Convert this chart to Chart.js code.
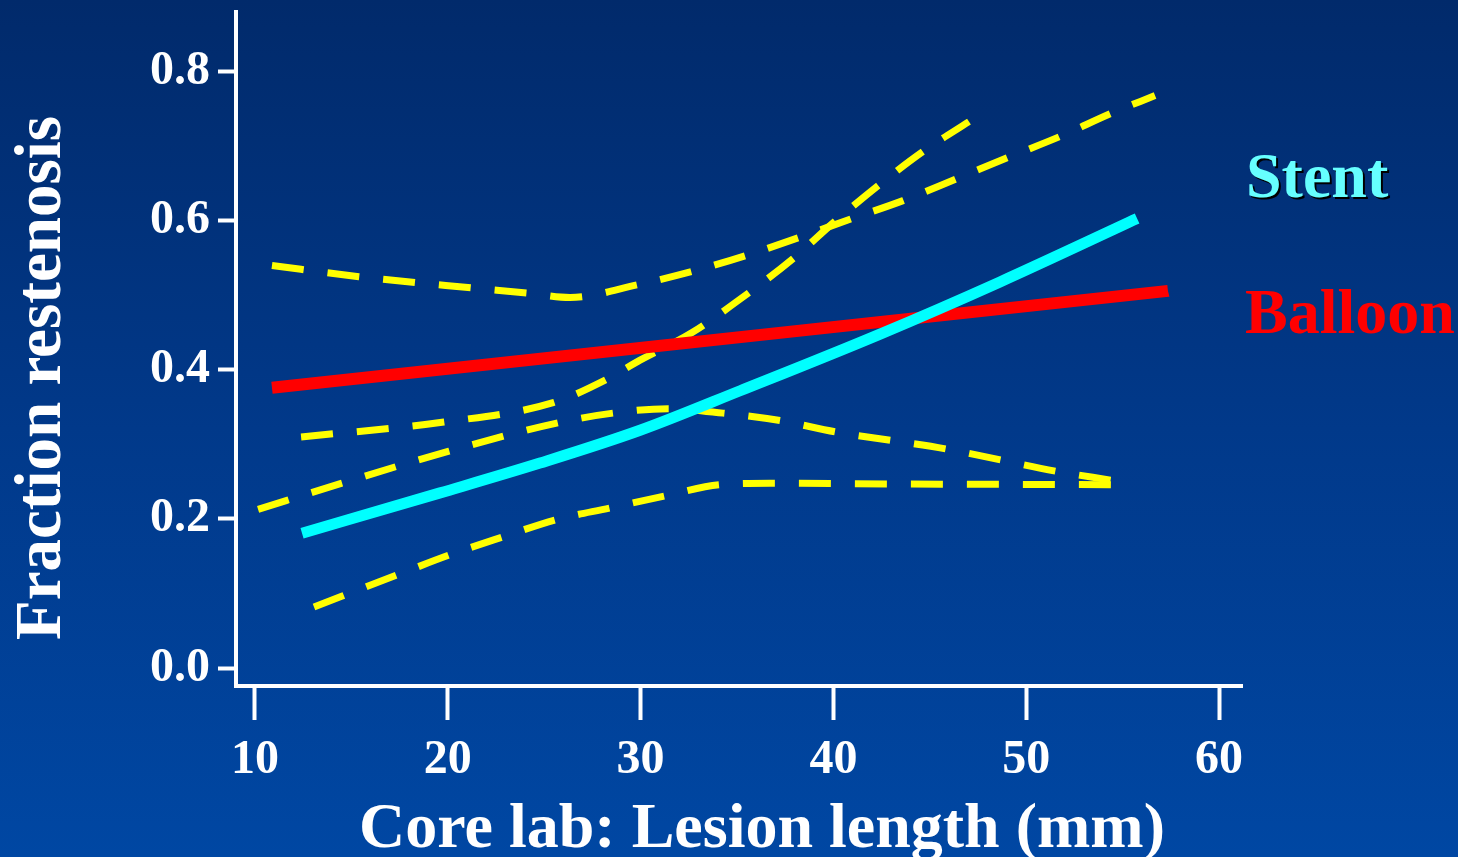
<!DOCTYPE html>
<html>
<head>
<meta charset="utf-8">
<title>Fraction restenosis vs lesion length</title>
<script src="https://cdn.jsdelivr.net/npm/chart.js@4.4.1/dist/chart.umd.min.js"></script>
<style>
  html, body { margin: 0; padding: 0; }
  body {
    width: 1458px;
    height: 857px;
    overflow: hidden;
    background: linear-gradient(to bottom, #012a6b 0%, #01398a 50%, #0047a3 100%);
  }
  canvas { display: block; }
</style>
</head>
<body>
<canvas id="restenosisChart" width="1458" height="857"></canvas>
<script>
// Axis ticks
const lengthTicks = [10, 20, 30, 40, 50, 60];
const fractionTicks = [0, 0.2, 0.4, 0.6, 0.8];

// Stent fit (solid cyan) and its confidence band
const stentLength = [12.44, 19.60, 24.78, 29.97, 35.16, 42.42, 48.64, 55.75];
const stentRate   = [0.181, 0.235, 0.275, 0.319, 0.372, 0.448, 0.518, 0.603];

const stentUpperLength = [12.39, 19.80, 25.46, 28.21, 29.97, 32.67, 34.90, 37.90, 39.98, 42.31, 44.65, 47.03];
const stentUpperRate   = [0.310, 0.330, 0.356, 0.387, 0.413, 0.450, 0.490, 0.549, 0.597, 0.647, 0.693, 0.733];

const stentLowerLength = [13.06, 17.37, 20.11, 22.86, 25.61, 28.46, 31.27, 34.12, 36.71, 43.45, 54.45];
const stentLowerRate   = [0.082, 0.125, 0.152, 0.176, 0.199, 0.215, 0.231, 0.246, 0.248, 0.247, 0.246];

// Balloon fit (solid red) and its confidence band
const balloonLength = [10.88, 57.35];
const balloonRate   = [0.376, 0.506];

const balloonUpperLength = [10.88, 15.39, 21.20, 24.11, 26.34, 29.81, 32.67, 35.41, 38.16, 40.96, 43.61, 46.36, 49.06, 51.75, 54.40, 56.68];
const balloonUpperRate   = [0.540, 0.525, 0.510, 0.503, 0.497, 0.514, 0.532, 0.553, 0.577, 0.603, 0.627, 0.656, 0.685, 0.713, 0.744, 0.768];

const balloonLowerLength = [10.16, 14.51, 20.06, 25.72, 28.57, 31.42, 34.27, 37.23, 40.08, 45.84, 51.55, 54.40];
const balloonLowerRate   = [0.213, 0.248, 0.291, 0.329, 0.342, 0.348, 0.342, 0.332, 0.317, 0.294, 0.264, 0.252];

const serif = "'Liberation Serif', 'Times New Roman', Times, serif";

const toPoints = (xs, ys) => xs.map((x, i) => ({ x: x, y: ys[i] }));

function fitLine(label, xs, ys, color, width, order) {
    return {
        label: label,
        data: toPoints(xs, ys),
        borderColor: color,
        borderWidth: width,
        pointRadius: 0,
        cubicInterpolationMode: 'monotone',
        borderCapStyle: 'butt',
        order: order
    };
}

function bandLine(label, xs, ys) {
    const ds = fitLine(label, xs, ys, '#ffff00', 7, 2);
    ds.borderDash = [32, 24];
    return ds;
}

// Titles and series names are drawn straight onto the canvas
const chartText = {
    id: 'chartText',
    afterDraw(chart) {
        const ctx = chart.ctx;
        ctx.save();
        ctx.fillStyle = '#ffffff';
        ctx.font = `bold 64px ${serif}`;
        ctx.textAlign = 'center';
        ctx.textBaseline = 'alphabetic';
        ctx.fillText('Core lab: Lesion length (mm)', 762, 847);

        ctx.font = `bold 65px ${serif}`;
        ctx.save();
        ctx.translate(60, 378);
        ctx.rotate(-Math.PI / 2);
        ctx.fillText('Fraction restenosis', 0, 0);
        ctx.restore();

        ctx.textAlign = 'left';
        ctx.font = `bold 64px ${serif}`;
        ctx.save();
        ctx.shadowColor = '#000000';
        ctx.shadowOffsetX = 2;
        ctx.shadowOffsetY = 2;
        ctx.shadowBlur = 0;
        ctx.fillStyle = '#66ffff';
        ctx.fillText('Stent', 1246, 197);
        ctx.restore();

        ctx.fillStyle = '#ff0000';
        ctx.fillText('Balloon', 1245, 333);
        ctx.restore();
    }
};

const tickFont = { family: serif, size: 48, weight: 'bold' };

new Chart(document.getElementById('restenosisChart'), {
    type: 'line',
    data: {
        datasets: [
            fitLine('Stent', stentLength, stentRate, '#00ffff', 11, 0),
            fitLine('Balloon', balloonLength, balloonRate, '#ff0000', 12, 1),
            bandLine('Stent upper', stentUpperLength, stentUpperRate),
            bandLine('Stent lower', stentLowerLength, stentLowerRate),
            bandLine('Balloon upper', balloonUpperLength, balloonUpperRate),
            bandLine('Balloon lower', balloonLowerLength, balloonLowerRate)
        ]
    },
    options: {
        responsive: false,
        animation: false,
        layout: { padding: { top: 12, right: 216, left: 0, bottom: 0 } },
        plugins: {
            legend: { display: false },
            tooltip: { enabled: false }
        },
        scales: {
            x: {
                type: 'linear',
                min: 9.015,
                max: 61.19,
                afterBuildTicks: s => { s.ticks = lengthTicks.map(v => ({ value: v })); },
                afterFit: s => { s.height = 171; s.paddingLeft = 0; s.paddingRight = 0; },
                grid: { drawOnChartArea: false, drawTicks: true, tickLength: 34, tickWidth: 4, tickColor: '#ffffff' },
                border: { display: true, color: '#ffffff', width: 4 },
                ticks: { color: '#ffffff', font: tickFont, padding: 12, maxRotation: 0, autoSkip: false }
            },
            y: {
                type: 'linear',
                min: -0.024,
                max: 0.88,
                afterBuildTicks: s => { s.ticks = fractionTicks.map(v => ({ value: v })); },
                afterFit: s => { s.width = 236; s.paddingTop = 0; s.paddingBottom = 0; },
                grid: { drawOnChartArea: false, drawTicks: true, tickLength: 18, tickWidth: 4, tickColor: '#ffffff' },
                border: { display: true, color: '#ffffff', width: 4 },
                ticks: {
                    color: '#ffffff',
                    font: tickFont,
                    padding: 8,
                    callback: v => v.toFixed(1)
                }
            }
        }
    },
    plugins: [chartText]
});
</script>
</body>
</html>
